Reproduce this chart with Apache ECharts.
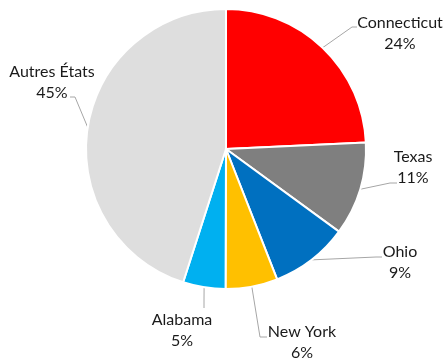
<!DOCTYPE html>
<html>
<head>
<meta charset="utf-8">
<script src="https://cdn.jsdelivr.net/npm/echarts@6/dist/echarts.min.js"></script>
<style>html,body{margin:0;padding:0;background:#fff;}#c{width:445px;height:358px;}</style>
</head>
<body>
<div id="c"></div>
<script>
var categories = ['Connecticut', 'Texas', 'Ohio', 'New York', 'Alabama', 'Autres États'];
var values = [24.25, 10.8, 9.0, 6.0, 4.9, 45.05];
var colors = ['#FF0000', '#7F7F7F', '#0070C0', '#FFC000', '#00B0F0', '#DEDEDE'];

// label placement (label centre, elbow, end of leader line)
var labelPlace = [
  {x: 400, y: 33, elbow: [352, 27], end: [357, 27]},
  {x: 413, y: 167, elbow: [390, 183], end: [397, 183]},
  {x: 400, y: 262, elbow: [376, 257], end: [382, 257]},
  {x: 302, y: 342, elbow: [260, 337], end: [267, 337]},
  {x: 182, y: 330, elbow: [204, 300], end: [204, 308]},
  {x: 52, y: 82, elbow: [75, 97], end: [70, 97]}
];

var chart = echarts.init(document.getElementById('c'));
chart.setOption({
  animation: false,
  series: [{
    type: 'pie',
    center: [226, 149],
    radius: 140,
    startAngle: 90,
    clockwise: true,
    percentPrecision: 0,
    data: categories.map(function (c, i) {
      return {name: c, value: values[i], itemStyle: {color: colors[i]}};
    }),
    itemStyle: {borderColor: '#ffffff', borderWidth: 2},
    emphasis: {disabled: true},
    label: {
      show: true,
      position: 'outside',
      formatter: '{b}\n{d}%',
      fontFamily: 'Lato',
      fontSize: 16,
      lineHeight: 21,
      color: '#1a1a1a',
      align: 'center',
      overflow: 'none',
      edgeDistance: 0
    },
    labelLine: {show: true, length: 15, length2: 10, lineStyle: {color: '#a6a6a6', width: 1}},
    labelLayout: function (params) {
      var p = labelPlace[params.dataIndex];
      var start = params.labelLinePoints ? params.labelLinePoints[0] : p.elbow;
      return {
        x: p.x, y: p.y, align: 'center', verticalAlign: 'middle',
        labelLinePoints: [start, p.elbow, p.end]
      };
    }
  }]
});
</script>
</body>
</html>
